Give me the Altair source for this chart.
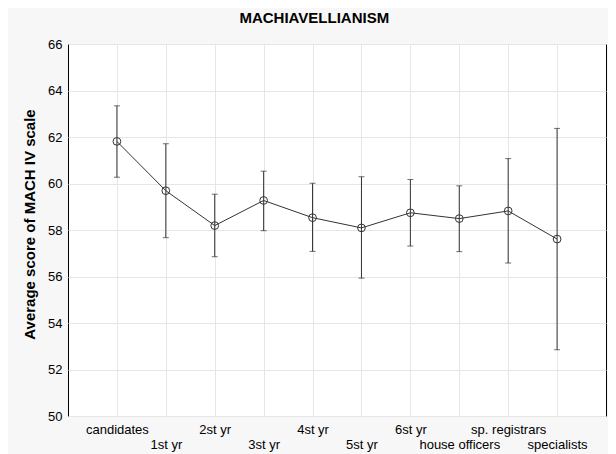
import json
import altair as alt
import pandas as pd

cats = ["candidates", "1st yr", "2st yr", "3st yr", "4st yr", "5st yr",
        "6st yr", "house officers", "sp. registrars", "specialists"]
means = [61.81, 59.69, 58.19, 59.27, 58.53, 58.09, 58.74, 58.49, 58.82, 57.61]
lows = [60.27, 57.67, 56.85, 57.97, 57.08, 55.93, 57.31, 57.07, 56.58, 52.85]
highs = [63.34, 61.71, 59.54, 60.53, 60.01, 60.29, 60.17, 59.90, 61.07, 62.37]
y_ticks = [50, 52, 54, 56, 58, 60, 62, 64, 66]

df = pd.DataFrame({"group": cats, "mean": means, "low": lows, "high": highs})

FONT = "Liberation Sans"
INK = "#333333"
GRID = "#e6e6e6"

second_row = json.dumps(cats[1::2])
x_axis = alt.Axis(
    title=None,
    labelAngle=0,
    labelFont=FONT,
    labelFontSize=13,
    labelColor="black",
    labelBaseline="top",
    labelPadding={"condition": {"test": f"indexof({second_row}, datum.value) >= 0",
                                "value": 22},
                  "value": 7},
    grid=True,
    gridColor=GRID,
    domain=False,
    ticks=False,
    tickSize=0,
)
y_axis = alt.Axis(
    title="Average score of MACH IV scale",
    titleFont=FONT,
    titleFontSize=15,
    titleFontWeight="bold",
    titleColor="black",
    titlePadding=10,
    titleY=180,
    values=y_ticks,
    labelFont=FONT,
    labelFontSize=13,
    labelColor="black",
    labelPadding=6,
    grid=True,
    gridColor=GRID,
    domain=False,
    ticks=False,
    tickSize=0,
)
y_scale = alt.Scale(domain=[50, 66], nice=False, zero=False)


def Y(field):
    return alt.Y(field, type="quantitative", scale=y_scale, axis=y_axis)


base = alt.Chart(df).encode(
    x=alt.X("group:N", sort=cats, scale=alt.Scale(type="point", padding=1), axis=x_axis)
)

rule = base.mark_rule(color=INK, strokeWidth=1).encode(y=Y("low"), y2="high:Q")
cap_hi = base.mark_tick(color=INK, thickness=1, size=6, orient="horizontal").encode(y=Y("high"))
cap_lo = base.mark_tick(color=INK, thickness=1, size=6, orient="horizontal").encode(y=Y("low"))
line = base.mark_line(color=INK, strokeWidth=1).encode(y=Y("mean"))
pts = base.mark_point(shape="circle", filled=False, size=60, color=INK,
                      strokeWidth=1, opacity=1).encode(y=Y("mean"))

chart = (
    alt.layer(rule, cap_hi, cap_lo, line, pts)
    .properties(
        width=538,
        height=372,
        title=alt.TitleParams("MACHIAVELLIANISM", font=FONT, fontSize=15,
                              fontWeight="bold", color="black", offset=12,
                              anchor="middle", frame="bounds"),
        autosize=alt.AutoSizeParams(type="none"),
        padding={"left": 60, "top": 36, "right": 2, "bottom": 38},
        background="#f7f7f7",
    )
    .configure_view(stroke="black", strokeWidth=1, fill="white")
)

chart.save("out.html", embed_options={"renderer": "svg", "actions": False})
